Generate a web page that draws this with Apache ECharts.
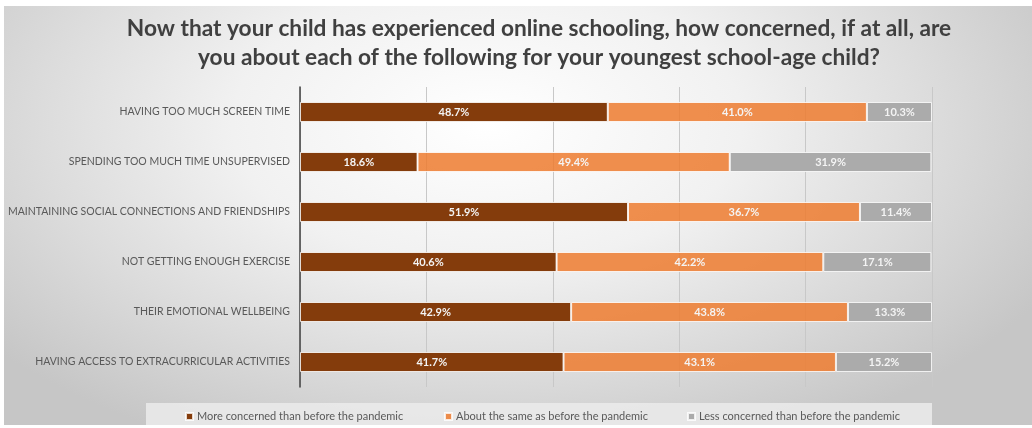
<!DOCTYPE html>
<html><head><meta charset="utf-8">
<script src="https://cdn.jsdelivr.net/npm/echarts@6/dist/echarts.min.js"></script>
<style>
html,body{margin:0;padding:0;background:#fff;}
#bg{position:absolute;left:4px;top:6px;width:1028px;height:419px;
background:radial-gradient(ellipse 62% 85% at 47% 28%, #ffffff 0%, #f1f1f1 40%, #dcdcdc 70%, #c6c6c6 100%);}
#chart{position:absolute;left:0;top:0;width:1032px;height:428px;}
</style></head>
<body>
<div id="bg"></div>
<div id="chart"></div>
<script>
const categories = [
  'HAVING TOO MUCH SCREEN TIME',
  'SPENDING TOO MUCH TIME UNSUPERVISED',
  'MAINTAINING SOCIAL CONNECTIONS AND FRIENDSHIPS',
  'NOT GETTING ENOUGH EXERCISE',
  'THEIR EMOTIONAL WELLBEING',
  'HAVING ACCESS TO EXTRACURRICULAR ACTIVITIES'
];
const seriesNames = [
  'More concerned than before the pandemic',
  'About the same as before the pandemic',
  'Less concerned than before the pandemic'
];
const moreConcerned = [48.7, 18.6, 51.9, 40.6, 42.9, 41.7];
const aboutSame = [41.0, 49.4, 36.7, 42.2, 43.8, 43.1];
const lessConcerned = [10.3, 31.9, 11.4, 17.1, 13.3, 15.2];
const titleText = 'Now that your child has experienced online schooling, how concerned, if at all, are\nyou about each of the following for your youngest school-age child?';

const colors = ['#843C0C', 'rgba(237,125,49,0.86)', '#ABABAB'];
const font = 'Lato, "Open Sans", sans-serif';

const chart = echarts.init(document.getElementById('chart'), null, {renderer:'canvas'});
function mk(name, data, color) {
  return {
    name, type:'bar', stack:'total', data, barWidth: 20,
    itemStyle:{color, borderColor:'rgba(255,255,255,0.8)', borderWidth:1},
    label:{show:true, position:'inside', formatter:p=>p.value.toFixed(1)+'%',
      color:'#f4f4f4', fontWeight:'bold', fontSize:11, fontFamily:font},
    emphasis:{disabled:true}
  };
}
const legendBase = {
  top: 406, itemWidth:7, itemHeight:7, icon:'rect',
  textStyle:{color:'#595959', fontSize:11, fontFamily:font, padding:[0,0,0,-1]},
  selectedMode:false
};
chart.setOption({
  animation:false,
  textStyle:{fontFamily:font},
  title:{text:titleText, left:534, top:9, textAlign:'center',
    textStyle:{fontSize:22.7, fontWeight:'bold', color:'#404040', lineHeight:29, fontFamily:font}},
  graphic:[{type:'rect', shape:{x:146, y:403, width:786, height:22}, style:{fill:'rgba(235,235,235,0.85)'}, z:-1}],
  legend:[
    Object.assign({left:180, data:[seriesNames[0]]}, legendBase),
    Object.assign({left:439, data:[seriesNames[1]]}, legendBase),
    Object.assign({left:682, data:[seriesNames[2]]}, legendBase)
  ],
  color: colors,
  grid:{left:300, right:100, top:87, bottom:41, containLabel:false},
  xAxis:{type:'value', min:0, max:100, interval:20,
    axisLabel:{show:false}, axisLine:{show:false}, axisTick:{show:false},
    splitLine:{show:true, lineStyle:{color:'#c8c8c8', width:1}}},
  yAxis:{type:'category', data:categories, inverse:true,
    axisLine:{show:true, lineStyle:{color:'#404040', width:1.5}},
    axisTick:{show:false},
    axisLabel:{color:'#595959', fontSize:10.5, margin:10, fontFamily:font}},
  series:[
    mk(seriesNames[0], moreConcerned, colors[0]),
    mk(seriesNames[1], aboutSame, colors[1]),
    mk(seriesNames[2], lessConcerned, colors[2])
  ]
});
</script>
</body></html>
